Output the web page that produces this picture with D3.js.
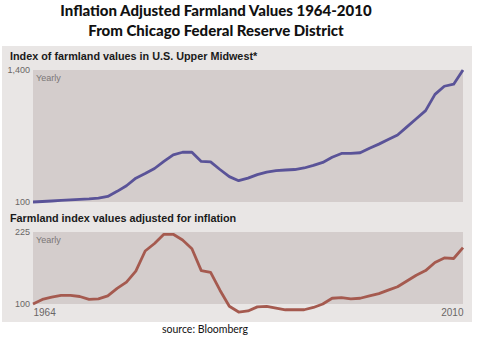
<!DOCTYPE html>
<html><head><meta charset="utf-8">
<script src="https://cdn.jsdelivr.net/npm/d3@7"></script>
<style>
body{margin:0;background:#fff;}
svg{display:block;}
</style></head>
<body>
<svg id="chart" width="479" height="342"></svg>
<script>
const years = d3.range(1964, 2011);
const nominalIndex = [100,105,110,115,120,125,130,138,155,205,260,335,380,430,500,565,590,590,500,495,420,350,310,335,370,395,410,415,420,435,460,490,540,578,578,585,630,670,715,760,840,920,1000,1160,1240,1260,1400];
const realIndex = [100,108,112,115,115,113,108,109,114,127,138,157,192,205,221,221,211,196,158,155,124,96,86,88,95,96,93,90,90,90,94,100,110,111,109,110,114,118,124,130,140,150,158,172,180,179,198];
const topTicks = [100, 1400];
const bottomTicks = [100, 225];
const yearTicks = [1964, 2010];
const titleLines = ["Inflation Adjusted Farmland Values 1964-2010", "From Chicago Federal Reserve District"];
const topLabel = "Index of farmland values in U.S. Upper Midwest*";
const bottomLabel = "Farmland index values adjusted for inflation";
const sourceText = "source: Bloomberg";

const svg = d3.select("#chart");
const plotL = 33, plotR = 463;
const narrow = "'Liberation Sans Narrow','Liberation Sans', Arial, sans-serif";

// titles
svg.selectAll("text.title").data(titleLines).join("text")
  .attr("class","title")
  .attr("x", 216).attr("y", (d,i)=> 16 + i*19.5)
  .attr("text-anchor","middle")
  .attr("font-family","Lato, 'Open Sans', sans-serif")
  .attr("font-weight","900").attr("font-size", 15)
  .attr("fill","#111").text(d=>d);

// outer panel
svg.append("rect").attr("x",2).attr("y",46).attr("width",470).attr("height",276).attr("fill","#e9e6e5");

const x = d3.scaleLinear().domain([1964, 2010]).range([plotL, plotR]);

function panel(top, bottom, domain, ticks, data, color, label, labelY, fmt){
  const y = d3.scaleLinear().domain(domain).range([bottom, top]);
  svg.append("rect").attr("x",plotL).attr("y",top).attr("width",plotR-plotL).attr("height",bottom-top).attr("fill","#d4cdcc");
  svg.append("text").attr("x",10).attr("y",labelY)
    .attr("font-family","'Liberation Sans', Arial, sans-serif").attr("font-weight","bold")
    .attr("font-size",10.8).attr("fill","#1a1a1a").text(label);
  svg.append("text").attr("x",plotL+3).attr("y",top+11)
    .attr("font-family",narrow)
    .attr("font-size",9).attr("fill","#7a7676").text("Yearly");
  const ax = svg.append("g").attr("transform",`translate(${plotL},0)`)
    .call(d3.axisLeft(y).tickValues(ticks).tickSize(0).tickPadding(3).tickFormat(fmt));
  ax.select(".domain").remove();
  ax.selectAll("text").attr("font-family",narrow)
    .attr("font-size",9).attr("fill","#6a6666");
  svg.append("path").datum(data)
    .attr("fill","none").attr("stroke",color).attr("stroke-width",2.8).attr("stroke-linejoin","round")
    .attr("d", d3.line().x((d,i)=>x(years[i])).y(d=>y(d)));
  return y;
}

panel(70, 202, [100,1400], topTicks, nominalIndex, "#5a5398", topLabel, 60, d3.format(","));
panel(232, 304, [100,225], bottomTicks, realIndex, "#a55a4f", bottomLabel, 222, d3.format("d"));

const xa = svg.append("g").attr("transform","translate(0,304)")
  .call(d3.axisBottom(x).tickValues(yearTicks).tickSize(0).tickPadding(5).tickFormat(d3.format("d")));
xa.select(".domain").remove();
xa.selectAll("text")
  .attr("font-family",narrow)
  .attr("font-size",10).attr("fill","#6a6666")
  .attr("text-anchor",(d,i)=> i===0 ? "start" : "end");

svg.append("text").attr("x",205).attr("y",333).attr("text-anchor","middle")
  .attr("font-family","Lato, 'Open Sans', sans-serif").attr("font-size",10.5).attr("fill","#111").text(sourceText);
</script>
</body></html>
